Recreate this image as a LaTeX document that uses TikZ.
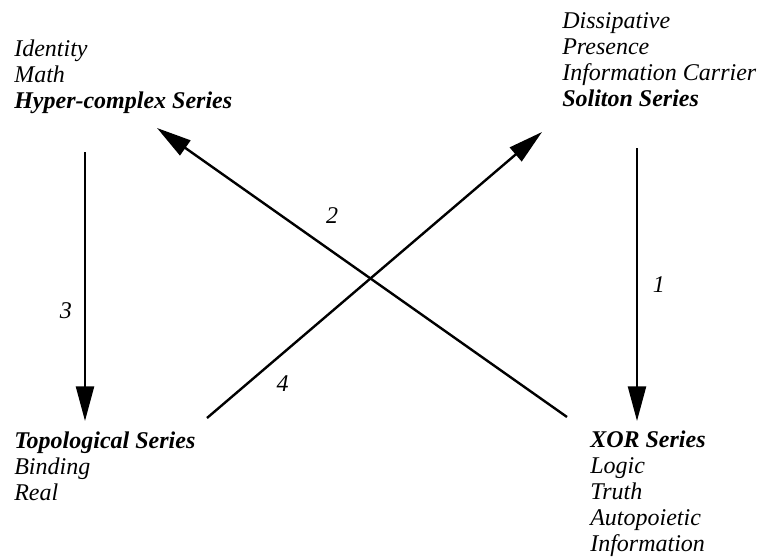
\documentclass[tikz,border=0pt]{standalone}
\usepackage{fontspec}
\setmainfont{Liberation Serif}[
    ItalicFont={Liberation Serif Italic},
    BoldItalicFont={Liberation Serif Bold Italic}]
\usepackage{tikz}
\usetikzlibrary{arrows.meta,calc,positioning}

\begin{document}
\begin{tikzpicture}[
    x=0.75pt, y=-0.75pt,
    series/.style={inner sep=0pt, align=left, anchor=north west, font=\fontsize{18}{19.5}\selectfont\itshape},
    num/.style={inner sep=0pt, font=\fontsize{18}{19.5}\selectfont\itshape},
    arr/.style={-{Triangle[length=26pt, width=13.5pt]}, line width=1.8pt},
]
    \useasboundingbox (0,0) rectangle (759,556);

    % Series
    \node[series] (hyper) at (14,40) {Identity\\Math\\\textbf{Hyper-complex Series}};
    \node[series] (soliton) at (562,12) {Dissipative\\Presence\\Information Carrier\\\textbf{Soliton Series}};
    \node[series] (topo) at (14,432) {\textbf{Topological Series}\\Binding\\Real};
    \node[series] (xor) at (590,431) {\textbf{XOR Series}\\Logic\\Truth\\Autopoietic\\Information};

    % Arrows
    \draw[arr] ($(soliton.north west)+(75,136)$) -- node[num, right=11pt] {1} ($(xor.north west)+(47,-10)$);
    \draw[arr] ($(xor.north west)+(-23,-14)$) -- node[num, pos=0.62, above right=10pt and 9pt] {2} ($(hyper.north west)+(143,88)$);
    \draw[arr] ($(hyper.north west)+(71,112)$) -- node[num, pos=0.59, left=9pt] {3} ($(topo.north west)+(71,-11)$);
    \draw[arr] ($(topo.north west)+(193,-14)$) -- node[num, pos=0.18, below right=6pt and 6pt] {4} ($(soliton.north west)+(-20,120)$);
\end{tikzpicture}
\end{document}
